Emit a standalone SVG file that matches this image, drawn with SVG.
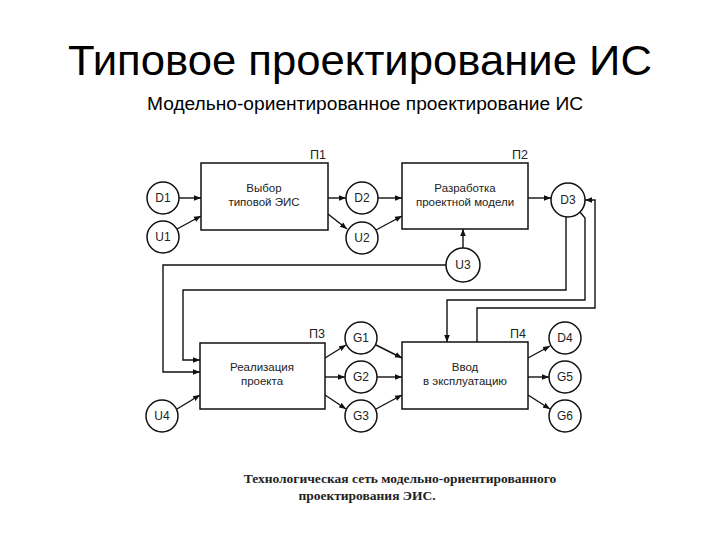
<svg xmlns="http://www.w3.org/2000/svg" width="720" height="540" viewBox="0 0 720 540">
<style>
.t{font-family:"Liberation Sans",Arial,sans-serif;fill:#000}
.box{fill:#fff;stroke:#111;stroke-width:1.5}
.c{fill:#fff;stroke:#111;stroke-width:1.5}
.bl{font-family:"Liberation Sans",Arial,sans-serif;font-size:11.5px;text-anchor:middle;fill:#222}
.cl{font-family:"Liberation Sans",Arial,sans-serif;font-size:12px;text-anchor:middle;fill:#222}
.pl{font-family:"Liberation Sans",Arial,sans-serif;font-size:12.5px;text-anchor:middle;fill:#222}
.ln{fill:none;stroke:#111;stroke-width:1.4;marker-end:url(#ah)}
.cap{font-family:"Liberation Serif","Times New Roman",serif;font-size:13.5px;font-weight:bold;text-anchor:middle;fill:#222}
</style>
<defs>
<marker id="ah" viewBox="0 0 10 10" refX="10" refY="5" markerWidth="5" markerHeight="5" markerUnits="strokeWidth" orient="auto">
<path d="M0,1 L10,5 L0,9 z" fill="#111"/>
</marker>
</defs>
<rect width="720" height="540" fill="#fff"/>
<text class="t" x="360" y="75" font-size="43" text-anchor="middle" textLength="584" lengthAdjust="spacingAndGlyphs">Типовое проектирование ИС</text>
<text class="t" x="365" y="110" font-size="18" text-anchor="middle" textLength="436" lengthAdjust="spacingAndGlyphs">Модельно-ориентированное проектирование ИС</text>

<g id="connectors">
<path class="ln" d="M179,198 H201"/>
<path class="ln" d="M177,229 L201,216"/>
<path class="ln" d="M328,198 H346"/>
<path class="ln" d="M328,214 L347,229"/>
<path class="ln" d="M378,198 H402"/>
<path class="ln" d="M376,230 L402,216"/>
<path class="ln" d="M528,198 H551"/>
<path class="ln" d="M463,248 V229"/>
<path class="ln" d="M446,265 H163 V372 H200"/>
<path class="ln" d="M566,217 V290 H183 V360 H200"/>
<path class="ln" d="M580,212 L585,218 V300 H447 V342"/>
<path class="ln" d="M477,342 V308 H595 V200 H585"/>
<path class="ln" d="M325,358 L346,345"/>
<path class="ln" d="M325,377 H345"/>
<path class="ln" d="M325,395 L346,409"/>
<path class="ln" d="M376,345 L402,358"/>
<path class="ln" d="M377,377 H402"/>
<path class="ln" d="M376,409 L402,395"/>
<path class="ln" d="M177,409 L200,395"/>
<path class="ln" d="M528,358 L550,346"/>
<path class="ln" d="M528,377 H549"/>
<path class="ln" d="M528,395 L550,409"/>
</g>

<g id="P1"><rect class="box" x="201" y="163" width="127" height="67"/><text class="bl" x="264" y="192">Выбор</text><text class="bl" x="264" y="206">типовой ЭИС</text><text class="pl" x="318" y="159">П1</text></g>
<g id="P2"><rect class="box" x="402" y="163" width="126" height="66"/><text class="bl" x="465" y="192">Разработка</text><text class="bl" x="465" y="206">проектной модели</text><text class="pl" x="520" y="159">П2</text></g>
<g id="P3"><rect class="box" x="200" y="343" width="125" height="66"/><text class="bl" x="262" y="371">Реализация</text><text class="bl" x="262" y="385">проекта</text><text class="pl" x="317" y="338">П3</text></g>
<g id="P4"><rect class="box" x="402" y="342" width="126" height="67"/><text class="bl" x="465" y="371">Ввод</text><text class="bl" x="465" y="385">в эксплуатацию</text><text class="pl" x="518" y="338">П4</text></g>

<g id="D1"><circle class="c" cx="163" cy="198" r="16"/><text class="cl" x="163" y="202">D1</text></g>
<g id="U1"><circle class="c" cx="163" cy="237" r="16"/><text class="cl" x="163" y="241">U1</text></g>
<g id="D2"><circle class="c" cx="362" cy="198" r="16"/><text class="cl" x="362" y="202">D2</text></g>
<g id="U2"><circle class="c" cx="362" cy="238" r="16"/><text class="cl" x="362" y="242">U2</text></g>
<g id="D3"><circle class="c" cx="568" cy="200" r="17"/><text class="cl" x="568" y="204">D3</text></g>
<g id="U3"><circle class="c" cx="463" cy="265" r="17"/><text class="cl" x="463" y="269">U3</text></g>
<g id="U4"><circle class="c" cx="162" cy="416" r="16"/><text class="cl" x="162" y="420">U4</text></g>
<g id="G1"><circle class="c" cx="361" cy="338" r="16"/><text class="cl" x="361" y="342">G1</text></g>
<g id="G2"><circle class="c" cx="361" cy="377" r="16"/><text class="cl" x="361" y="381">G2</text></g>
<g id="G3"><circle class="c" cx="361" cy="416" r="16"/><text class="cl" x="361" y="420">G3</text></g>
<g id="D4"><circle class="c" cx="565" cy="338" r="16"/><text class="cl" x="565" y="342">D4</text></g>
<g id="G5"><circle class="c" cx="565" cy="377" r="16"/><text class="cl" x="565" y="381">G5</text></g>
<g id="G6"><circle class="c" cx="565" cy="416" r="16"/><text class="cl" x="565" y="420">G6</text></g>

<text class="cap" x="400" y="483">Технологическая сеть модельно-ориентированного</text>
<text class="cap" x="367" y="500">проектирования ЭИС.</text>
</svg>
